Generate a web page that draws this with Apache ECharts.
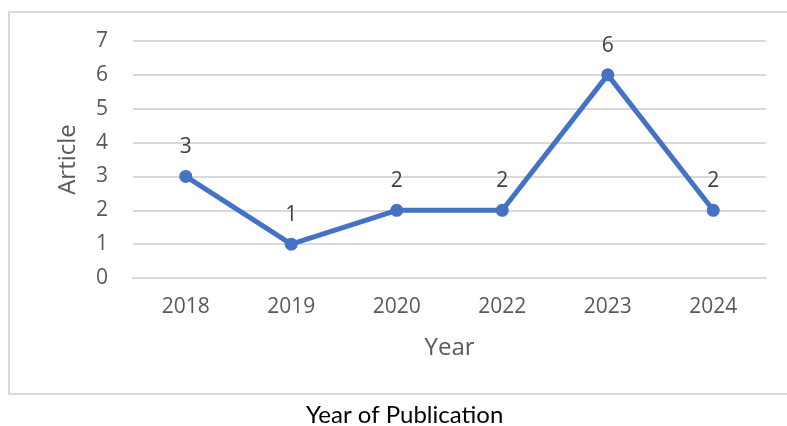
<!DOCTYPE html>
<html>
<head>
<meta charset="utf-8">
<script src="https://cdn.jsdelivr.net/npm/echarts@6/dist/echarts.min.js"></script>
<style>
html,body{margin:0;padding:0;background:#fff;}
#c{width:787px;height:426px;}
</style>
</head>
<body>
<div id="c"></div>
<script>
const categories = ['2018', '2019', '2020', '2022', '2023', '2024'];
const articles = [3, 1, 2, 2, 6, 2];
const yTicks = [0, 1, 2, 3, 4, 5, 6, 7];

const chart = echarts.init(document.getElementById('c'), null, {renderer: 'canvas'});
const FONT = '"Open Sans", "Noto Sans", sans-serif';
const tickFont = {color: '#595959', fontSize: 21, fontFamily: FONT};
chart.setOption({
  animation: false,
  backgroundColor: '#fff',
  title: {
    text: 'Year of Publication',
    left: 301,
    top: 398,
    textStyle: {color: '#000', fontSize: 24, fontWeight: 'normal', fontFamily: 'Lato'}
  },
  graphic: [{
    type: 'rect',
    shape: {x: 9, y: 12, width: 800, height: 382},
    style: {fill: 'none', stroke: '#d9d9d9', lineWidth: 2},
    silent: true
  }],
  grid: {left: 133, right: 21, top: 41, bottom: 148},
  xAxis: {
    type: 'category',
    data: categories,
    boundaryGap: true,
    axisLine: {lineStyle: {color: '#d9d9d9', width: 2}},
    axisTick: {show: false},
    axisLabel: Object.assign({margin: 19}, tickFont),
    name: 'Year',
    nameLocation: 'middle',
    nameGap: 58,
    nameTextStyle: {color: '#595959', fontSize: 24, fontFamily: FONT}
  },
  yAxis: {
    type: 'value',
    min: yTicks[0],
    max: yTicks[yTicks.length - 1],
    interval: 1,
    axisLine: {show: false},
    axisTick: {show: false},
    splitLine: {lineStyle: {color: '#d9d9d9', width: 2}},
    axisLabel: Object.assign({margin: 25}, tickFont),
    name: 'Article',
    nameLocation: 'middle',
    nameGap: 53,
    nameTextStyle: {color: '#595959', fontSize: 24, fontFamily: FONT}
  },
  series: [{
    type: 'line',
    data: articles,
    symbol: 'circle',
    symbolSize: 13,
    lineStyle: {color: '#4472C4', width: 5},
    itemStyle: {color: '#4472C4'},
    label: {show: true, position: 'top', distance: 12, color: '#404040', fontSize: 21, fontFamily: FONT}
  }]
});
</script>
</body>
</html>
